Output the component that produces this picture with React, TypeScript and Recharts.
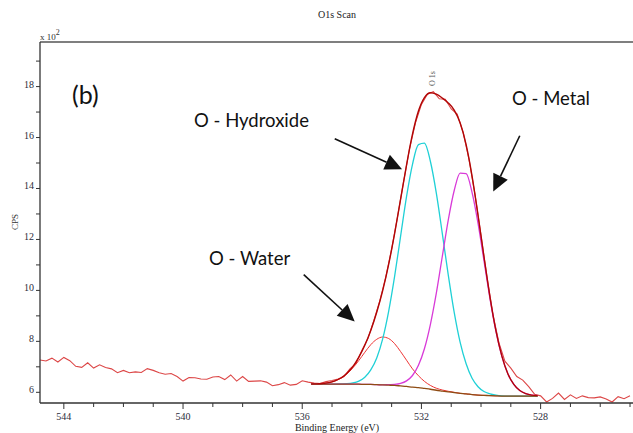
import { LineChart, Line, XAxis, YAxis, ReferenceLine } from 'recharts';

// O1s survey: measured counts (x100 CPS) against binding energy (eV)
const rawEnergy = [
  544.8, 544.6, 544.4, 544.2, 544.0, 543.8, 543.6, 543.4, 543.2, 543.0,
  542.8, 542.6, 542.4, 542.2, 542.0, 541.8, 541.6, 541.4, 541.2, 541.0,
  540.8, 540.6, 540.4, 540.2, 540.0, 539.8, 539.6, 539.4, 539.2, 539.0,
  538.8, 538.6, 538.4, 538.2, 538.0, 537.8, 537.6, 537.4, 537.2, 537.0,
  536.8, 536.6, 536.4, 536.2, 536.0, 535.8, 535.6, 535.4, 535.2, 535.0,
  534.8, 534.6, 534.4, 534.2, 534.0, 533.8, 533.6, 533.4, 533.2, 533.0,
  532.8, 532.6, 532.4, 532.2, 532.0, 531.8, 531.6, 531.4, 531.2, 531.0,
  530.8, 530.6, 530.4, 530.2, 530.0, 529.8, 529.6, 529.4, 529.2, 529.0,
  528.8, 528.6, 528.4, 528.2, 528.0, 527.8, 527.6, 527.4, 527.2, 527.0,
  526.8, 526.6, 526.4, 526.2, 526.0, 525.8, 525.6, 525.4, 525.2, 525.0,
];
const rawCps = [
  7.27, 7.23, 7.34, 7.19, 7.37, 7.24, 7.02, 6.98, 7.16, 6.95,
  7.08, 6.97, 6.92, 6.77, 6.86, 6.77, 6.80, 6.78, 6.93, 6.86,
  6.77, 6.71, 6.74, 6.62, 6.44, 6.58, 6.57, 6.52, 6.51, 6.60,
  6.62, 6.50, 6.68, 6.44, 6.62, 6.43, 6.44, 6.45, 6.40, 6.26,
  6.30, 6.38, 6.28, 6.31, 6.45, 6.40, 6.36, 6.34, 6.42, 6.46,
  6.52, 6.62, 6.92, 7.12, 7.64, 8.10, 8.80, 9.58, 10.50, 11.62,
  12.90, 14.26, 15.55, 16.58, 17.30, 17.70, 17.80, 17.52, 17.50, 17.12,
  16.92, 16.20, 15.12, 13.75, 12.15, 10.52, 9.05, 7.95, 7.22, 6.95,
  6.62, 6.48, 6.22, 5.92, 5.86, 5.62, 5.76, 5.97, 5.72, 5.90,
  5.76, 5.86, 5.79, 5.78, 5.82, 5.74, 5.62, 5.83, 5.75, 5.86,
];

// peak-fit region
const fitEnergy = [
  535.7, 535.5, 535.3, 535.1, 534.9, 534.7, 534.5, 534.3, 534.1, 533.9,
  533.7, 533.5, 533.3, 533.1, 532.9, 532.7, 532.5, 532.3, 532.1, 531.9,
  531.7, 531.5, 531.3, 531.1, 530.9, 530.7, 530.5, 530.3, 530.1, 529.9,
  529.7, 529.5, 529.3, 529.1, 528.9, 528.7, 528.5, 528.3, 528.1,
];
const backgroundCps = [
  6.32, 6.32, 6.32, 6.32, 6.32, 6.32, 6.32, 6.32, 6.32, 6.31,
  6.31, 6.30, 6.29, 6.28, 6.27, 6.25, 6.23, 6.20, 6.18, 6.15,
  6.12, 6.08, 6.05, 6.02, 5.99, 5.96, 5.94, 5.91, 5.89, 5.88,
  5.87, 5.86, 5.85, 5.85, 5.85, 5.85, 5.85, 5.85, 5.85,
];
const waterCps = [
  6.33, 6.33, 6.35, 6.38, 6.45, 6.55, 6.72, 6.96, 7.25, 7.57,
  7.87, 8.08, 8.17, 8.11, 7.91, 7.60, 7.26, 6.92, 6.65, 6.43,
  6.27, 6.16, 6.09, 6.04, 6.00, 5.96, 5.94, 5.91, 5.89, 5.88,
  5.87, 5.86, 5.85, 5.85, 5.85, 5.85, 5.85, 5.85, 5.85,
];
const hydroxideCps = [
  6.32, 6.32, 6.32, 6.32, 6.32, 6.33, 6.34, 6.37, 6.44, 6.59,
  6.88, 7.35, 8.10, 9.18, 10.55, 12.12, 13.68, 14.95, 15.72, 15.78,
  15.07, 13.82, 12.24, 10.61, 9.14, 7.96, 7.12, 6.55, 6.22, 6.03,
  5.94, 5.89, 5.86, 5.85, 5.85, 5.85, 5.85, 5.85, 5.85,
];
const metalCps = [
  6.32, 6.32, 6.32, 6.32, 6.32, 6.32, 6.32, 6.32, 6.32, 6.31,
  6.31, 6.30, 6.29, 6.30, 6.31, 6.35, 6.45, 6.66, 7.06, 7.71,
  8.66, 9.89, 11.33, 12.76, 13.92, 14.60, 14.58, 13.84, 12.63, 11.16,
  9.68, 8.40, 7.41, 6.73, 6.31, 6.07, 5.95, 5.89, 5.87,
];
const envelopeCps = [
  6.33, 6.33, 6.35, 6.38, 6.45, 6.56, 6.75, 7.01, 7.38, 7.85,
  8.43, 9.14, 9.99, 11.02, 12.23, 13.57, 14.92, 16.13, 17.04, 17.57,
  17.76, 17.70, 17.55, 17.36, 17.08, 16.57, 15.72, 14.48, 12.95, 11.31,
  9.75, 8.42, 7.42, 6.73, 6.31, 6.07, 5.95, 5.89, 5.87,
];

const energyTicks = [
  525, 526, 527, 528, 529, 530, 531, 532, 533, 534,
  535, 536, 537, 538, 539, 540, 541, 542, 543, 544,
];
const energyLabels = [544, 540, 536, 532, 528];
const cpsTicks = [6, 7, 8, 9, 10, 11, 12, 13, 14, 15, 16, 17, 18, 19];
const cpsLabels = [6, 8, 10, 12, 14, 16, 18];
const energyDomain = [524.9, 544.8];
const cpsDomain = [5.58, 19.75];

// annotation arrows, [tail, head] in (eV, CPS)
const hydroxideArrow = [{ x: 534.91, y: 15.95 }, { x: 532.65, y: 14.76 }];
const metalArrow = [{ x: 528.7, y: 16.07 }, { x: 529.59, y: 13.88 }];
const waterArrow = [{ x: 535.95, y: 10.62 }, { x: 534.24, y: 8.78 }];

const rawPoints = rawEnergy.map((energy, i) => ({ energy, cps: rawCps[i] }));
const fitPoints = fitEnergy.map((energy, i) => ({
  energy,
  background: backgroundCps[i],
  water: waterCps[i],
  hydroxide: hydroxideCps[i],
  metal: metalCps[i],
  envelope: envelopeCps[i],
}));

const axisFont = '"Liberation Serif", "DejaVu Serif", serif';
const noteFont = 'Lato, "Open Sans", sans-serif';

function EnergyTick({ x, y, payload }: any) {
  const major = energyLabels.includes(payload.value);
  return (
    <g>
      <line x1={x} x2={x} y1={y} y2={y + (major ? 6 : 4)} stroke="#333" strokeWidth={1} />
      {major && (
        <text x={x} y={y + 17} textAnchor="middle" fontSize={10} fontFamily={axisFont} fill="#2b2b3a">
          {payload.value}
        </text>
      )}
    </g>
  );
}

function CpsTick({ x, y, payload }: any) {
  const major = cpsLabels.includes(payload.value);
  return (
    <g>
      <line x1={x - 4} x2={x} y1={y} y2={y} stroke="#333" strokeWidth={1} />
      {major && (
        <text x={x - 6} y={y + 1} textAnchor="end" fontSize={10} fontFamily={axisFont} fill="#2b2b3a">
          {payload.value}
        </text>
      )}
    </g>
  );
}

function Arrow(props: any) {
  const { x1, y1, x2, y2 } = props;
  const dx = x2 - x1;
  const dy = y2 - y1;
  const len = Math.sqrt(dx * dx + dy * dy);
  const ux = dx / len;
  const uy = dy / len;
  const head = 17;
  const half = 8;
  const bx = x2 - ux * head;
  const by = y2 - uy * head;
  return (
    <g>
      <line x1={x1} y1={y1} x2={bx} y2={by} stroke="#111" strokeWidth={1.6} />
      <polygon
        points={`${x2},${y2} ${bx - uy * half},${by + ux * half} ${bx + uy * half},${by - ux * half}`}
        fill="#111"
      />
    </g>
  );
}

export default function App() {
  return (
    <div style={{ position: 'absolute', left: 0, top: 0, width: 633, height: 433, background: '#fff' }}>
      <LineChart width={633} height={433} margin={{ top: 42, right: 0, bottom: 0, left: 0 }}>
        <XAxis
          dataKey="energy"
          type="number"
          domain={energyDomain}
          allowDataOverflow
          reversed
          ticks={energyTicks}
          interval={0}
          height={30}
          tickSize={0}
          tickMargin={0}
          tickLine={false}
          tick={<EnergyTick />}
          stroke="#333"
          strokeWidth={1.3}
        />
        <YAxis
          type="number"
          domain={cpsDomain}
          allowDataOverflow
          ticks={cpsTicks}
          interval={0}
          width={40}
          tickSize={0}
          tickMargin={0}
          tickLine={false}
          tick={<CpsTick />}
          stroke="#333"
          strokeWidth={1.3}
        />
        <ReferenceLine y={cpsDomain[1]} stroke="#555" strokeWidth={1.5} />

        <Line data={rawPoints} dataKey="cps" type="linear" stroke="#dc4646" strokeWidth={1.1} dot={false} activeDot={false} isAnimationActive={false} />
        <Line data={fitPoints} dataKey="water" type="monotone" stroke="#ee3434" strokeWidth={1} dot={false} activeDot={false} isAnimationActive={false} />
        <Line data={fitPoints} dataKey="hydroxide" type="monotone" stroke="#1fd0d6" strokeWidth={1.3} dot={false} activeDot={false} isAnimationActive={false} />
        <Line data={fitPoints} dataKey="metal" type="monotone" stroke="#d83ad8" strokeWidth={1.3} dot={false} activeDot={false} isAnimationActive={false} />
        <Line data={fitPoints} dataKey="background" type="monotone" stroke="#8e4c14" strokeWidth={1.3} dot={false} activeDot={false} isAnimationActive={false} />
        <Line data={fitPoints} dataKey="envelope" type="monotone" stroke="#b00606" strokeWidth={1.4} dot={false} activeDot={false} isAnimationActive={false} />

        <ReferenceLine segment={hydroxideArrow} shape={Arrow} ifOverflow="visible" />
        <ReferenceLine segment={metalArrow} shape={Arrow} ifOverflow="visible" />
        <ReferenceLine segment={waterArrow} shape={Arrow} ifOverflow="visible" />

        <text x={337} y={18} textAnchor="middle" fontSize={10} fontFamily={axisFont} fill="#222">O1s Scan</text>
        <text x={40} y={40} fontSize={9} fontFamily={axisFont} fill="#333">
          x 10<tspan dy={-5} fontSize={8}>2</tspan>
        </text>
        <text x={18} y={222} textAnchor="middle" fontSize={9} fontFamily={axisFont} fill="#333" transform="rotate(-90 18 222)">CPS</text>
        <text x={337} y={431} textAnchor="middle" fontSize={10} fontFamily={axisFont} fill="#222">Binding Energy (eV)</text>
        <text x={435} y={86} fontSize={8} fontFamily={axisFont} fill="#555" transform="rotate(-90 435 86)">O 1s</text>

        <text x={72} y={104} fontSize={25} fontFamily={noteFont} fill="#111">(b)</text>
        <text x={194} y={127} fontSize={18.5} fontFamily={noteFont} fill="#111">O - Hydroxide</text>
        <text x={512} y={105} fontSize={18.5} fontFamily={noteFont} fill="#111">O - Metal</text>
        <text x={209} y={265} fontSize={18.5} fontFamily={noteFont} fill="#111">O - Water</text>
      </LineChart>
    </div>
  );
}
